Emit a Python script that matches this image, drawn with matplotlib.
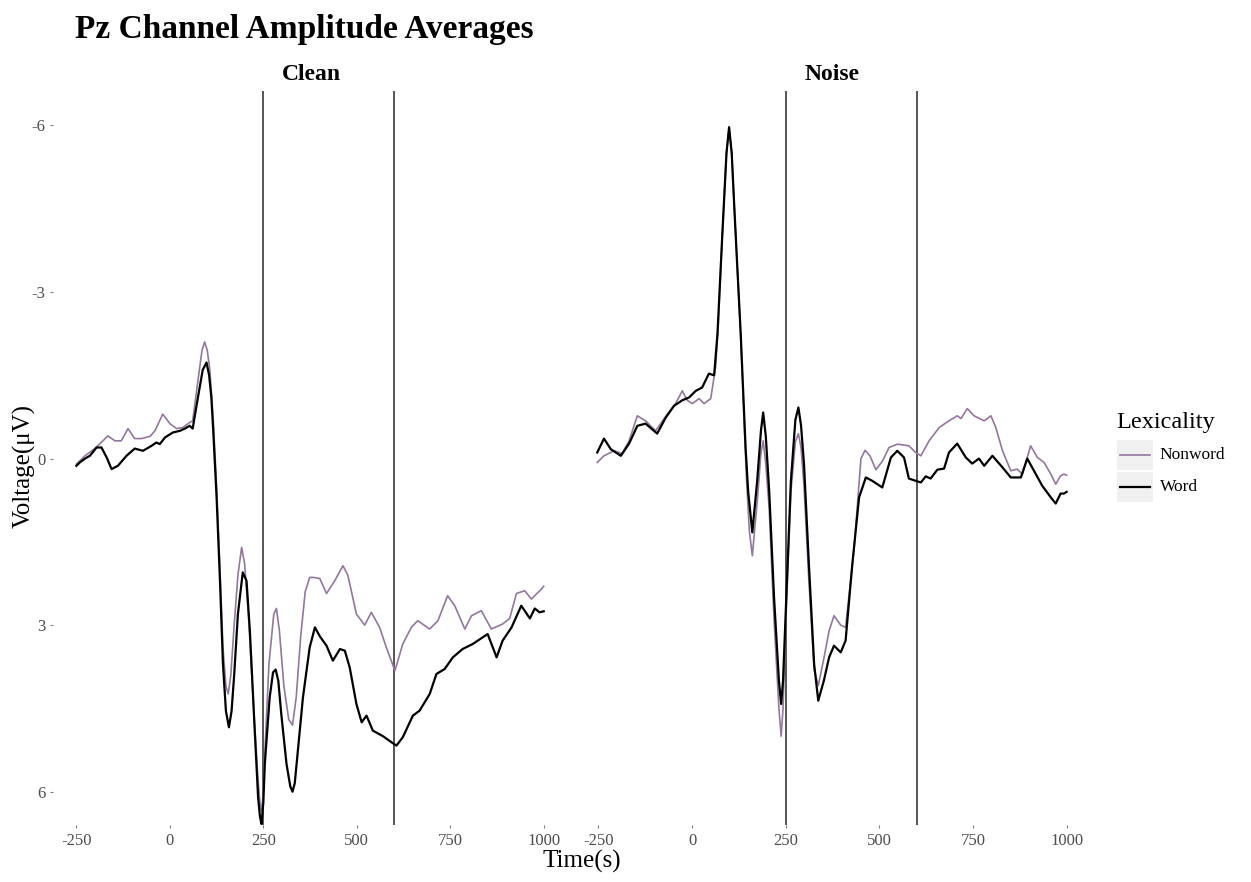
import matplotlib
matplotlib.use("Agg")
import matplotlib.pyplot as plt
from matplotlib.lines import Line2D
from matplotlib.patches import Rectangle

plt.rcParams["font.family"] = ["Liberation Serif", "DejaVu Serif"]
plt.rcParams["axes.unicode_minus"] = False

# Pz channel grand averages (time in ms, voltage in microvolts)
clean_word_t = [
    -250, -241, -227, -214, -196, -183, -169, -156, -139, -116, -94, -72, -49, -36,
    -27, -13, 8, 27, 40, 53, 61, 75, 88, 98, 105, 111, 116, 125, 134, 142, 150, 158,
    165, 172, 182, 195, 205, 214, 227, 236, 241, 245, 250, 254, 267, 276, 283, 290,
    298, 312, 322, 328, 334, 339, 356, 374, 388, 401, 419, 436, 455, 468, 481, 499,
    513, 526, 543, 570, 593, 606, 623, 650, 668, 695, 713, 735, 757, 783, 810, 850,
    874, 890, 914, 940, 963, 976, 989, 1000,
]
clean_word_v = [
    0.13, 0.07, 0.00, -0.05, -0.20, -0.20, -0.02, 0.19, 0.13, -0.05, -0.18, -0.14,
    -0.23, -0.29, -0.26, -0.38, -0.47, -0.50, -0.54, -0.59, -0.54, -1.10, -1.60,
    -1.73, -1.50, -1.10, -0.50, 0.70, 2.20, 3.70, 4.55, 4.84, 4.55, 3.90, 2.80, 2.05,
    2.20, 3.10, 4.90, 6.10, 6.45, 6.58, 6.20, 5.50, 4.30, 3.85, 3.80, 4.00, 4.60,
    5.50, 5.90, 6.00, 5.85, 5.50, 4.30, 3.40, 3.04, 3.20, 3.37, 3.64, 3.43, 3.46,
    3.76, 4.42, 4.75, 4.63, 4.90, 5.00, 5.11, 5.17, 5.02, 4.63, 4.54, 4.24, 3.88,
    3.79, 3.58, 3.43, 3.34, 3.16, 3.58, 3.28, 3.04, 2.65, 2.88, 2.70, 2.77, 2.75,
]

clean_nonword_t = [
    -250, -227, -201, -179, -166, -147, -130, -112, -94, -76, -53, -40, -19, 0, 18,
    35, 53, 61, 75, 86, 93, 100, 107, 116, 125, 134, 142, 150, 156, 163, 172, 182,
    192, 200, 210, 225, 236, 241, 245, 249, 254, 265, 278, 285, 293, 305, 318, 328,
    338, 350, 362, 374, 383, 401, 419, 441, 463, 476, 499, 521, 539, 561, 579, 602,
    623, 646, 663, 695, 717, 743, 762, 789, 807, 833, 860, 890, 909, 927, 949, 967,
    994, 1000,
]
clean_nonword_v = [
    0.10, -0.05, -0.18, -0.32, -0.41, -0.32, -0.32, -0.54, -0.36, -0.36, -0.40,
    -0.50, -0.80, -0.63, -0.54, -0.56, -0.65, -0.68, -1.40, -1.95, -2.10, -1.95,
    -1.59, -0.70, 0.50, 2.00, 3.40, 4.10, 4.24, 3.90, 3.00, 2.10, 1.60, 1.90, 2.80,
    4.60, 5.80, 6.20, 6.35, 6.10, 5.30, 3.70, 2.80, 2.70, 3.10, 4.10, 4.70, 4.80,
    4.30, 3.20, 2.40, 2.14, 2.14, 2.16, 2.43, 2.20, 1.93, 2.10, 2.80, 3.00, 2.77,
    3.04, 3.40, 3.82, 3.34, 3.04, 2.92, 3.07, 2.92, 2.47, 2.65, 3.07, 2.83, 2.74,
    3.07, 2.98, 2.88, 2.43, 2.38, 2.53, 2.35, 2.30,
]

noise_word_t = [
    -253, -235, -217, -190, -168, -146, -124, -93, -70, -48, -26, -8, 10, 27, 45, 59,
    68, 81, 92, 99, 106, 112, 122, 130, 143, 150, 161, 174, 184, 190, 197, 206, 219,
    232, 238, 243, 250, 264, 276, 284, 291, 299, 312, 326, 337, 352, 366, 379, 397,
    410, 428, 446, 464, 481, 508, 531, 548, 566, 579, 597, 611, 624, 637, 655, 673,
    686, 708, 731, 748, 766, 780, 802, 829, 851, 878, 895, 913, 935, 958, 971, 984,
    993, 1000,
]
noise_word_v = [
    -0.11, -0.36, -0.17, -0.05, -0.27, -0.59, -0.63, -0.45, -0.74, -0.95, -1.05,
    -1.10, -1.22, -1.28, -1.53, -1.50, -2.25, -4.05, -5.50, -5.97, -5.50, -4.65,
    -3.30, -2.25, -0.20, 0.60, 1.33, 0.40, -0.50, -0.83, -0.40, 0.58, 2.50, 4.00,
    4.42, 4.00, 2.80, 0.40, -0.70, -0.92, -0.60, 0.10, 1.90, 3.70, 4.36, 4.00, 3.58,
    3.37, 3.49, 3.28, 1.90, 0.70, 0.34, 0.40, 0.52, -0.02, -0.14, -0.02, 0.36, 0.40,
    0.43, 0.32, 0.36, 0.20, 0.18, -0.11, -0.27, -0.02, 0.09, 0.00, 0.13, -0.05, 0.16,
    0.34, 0.34, 0.00, 0.22, 0.49, 0.70, 0.81, 0.63, 0.63, 0.60,
]

noise_nonword_t = [
    -253, -235, -208, -187, -168, -146, -124, -97, -66, -44, -26, -13, 1, 19, 32, 50,
    63, 70, 81, 92, 99, 106, 112, 122, 130, 145, 153, 161, 175, 184, 190, 197, 206,
    219, 232, 238, 243, 250, 264, 276, 284, 291, 299, 312, 326, 337, 352, 366, 379,
    397, 410, 433, 451, 462, 475, 491, 509, 526, 549, 579, 597, 611, 633, 660, 686,
    708, 718, 735, 753, 780, 798, 811, 829, 851, 868, 882, 904, 922, 940, 958, 971,
    984, 993, 1000,
]
noise_nonword_v = [
    0.07, -0.05, -0.14, -0.09, -0.32, -0.77, -0.68, -0.50, -0.80, -0.99, -1.22,
    -1.05, -0.99, -1.08, -0.99, -1.08, -1.65, -2.40, -4.05, -5.50, -5.95, -5.50,
    -4.65, -3.30, -2.20, 0.30, 1.30, 1.75, 0.70, -0.10, -0.32, 0.10, 0.90, 2.90,
    4.50, 5.00, 4.50, 3.00, 0.60, -0.30, -0.45, -0.20, 0.50, 2.20, 3.80, 4.09, 3.60,
    3.10, 2.83, 3.00, 3.04, 1.60, 0.00, -0.15, -0.05, 0.20, 0.04, -0.20, -0.26,
    -0.23, -0.11, -0.05, -0.32, -0.56, -0.68, -0.77, -0.72, -0.90, -0.77, -0.68,
    -0.77, -0.56, -0.14, 0.22, 0.19, 0.28, -0.23, -0.02, 0.07, 0.28, 0.46, 0.31,
    0.28, 0.30,
]

conditions = ["Clean", "Noise"]
window_ms = [250, 600]
x_ticks = [-250, 0, 250, 500, 750, 1000]
y_ticks = [-6, -3, 0, 3, 6]

word_color = "#000000"
nonword_color = "#94769f"
text_grey = "#4d4d4d"

fig = plt.figure(figsize=(12.51, 8.82), dpi=100)
ax_clean = fig.add_axes([0.0424, 0.0646, 0.4109, 0.8322])
ax_noise = fig.add_axes([0.4596, 0.0646, 0.4117, 0.8322])

series = {
    "Clean": (clean_nonword_t, clean_nonword_v, clean_word_t, clean_word_v),
    "Noise": (noise_nonword_t, noise_nonword_v, noise_word_t, noise_word_v),
}
strip_x = {"Clean": 0.2486, "Noise": 0.6655}

for ax, cond in zip([ax_clean, ax_noise], conditions):
    nt, nv, wt, wv = series[cond]
    ax.plot(nt, nv, color=nonword_color, lw=1.2, zorder=3,
            solid_joinstyle="round")
    ax.plot(wt, wv, color=word_color, lw=1.6, zorder=4,
            solid_joinstyle="round")
    for xv in window_ms:
        ax.axvline(xv, color="#555555", lw=1.4, zorder=2)
    ax.set_xlim(-312.5, 1062.5)
    ax.set_ylim(6.6, -6.62)
    ax.set_xticks(x_ticks)
    ax.set_yticks(y_ticks)
    for sp in ax.spines.values():
        sp.set_visible(False)
    ax.tick_params(axis="both", length=2.5, width=0.8, color="#7f7f7f",
                   labelcolor=text_grey, labelsize=12, pad=3)
    fig.text(strip_x[cond], 0.915, cond, fontsize=17, fontweight="bold",
             ha="center", va="center")

ax_noise.tick_params(axis="y", left=False, labelleft=False)

fig.text(0.06, 0.966, "Pz Channel Amplitude Averages", fontsize=24,
         fontweight="bold", ha="left", va="center")
fig.text(0.465, 0.023, "Time(s)", fontsize=18, ha="center", va="center")
fig.text(0.0195, 0.4717, "Voltage(\u03bcV)", fontsize=18, ha="center",
         va="center", rotation=90)

# legend drawn with grey key boxes
fig.text(0.8925, 0.5215, "Lexicality", fontsize=17.5, ha="left", va="center")
labels = ["Nonword", "Word"]
colors = [nonword_color, word_color]
widths = [1.2, 1.6]
box_h = 30 / 882
for i, (lab, col, lw) in enumerate(zip(labels, colors, widths)):
    top = 1 - (440 + i * 32) / 882
    fig.patches.append(Rectangle((0.8929, top - box_h), 36 / 1251, box_h,
                                 transform=fig.transFigure,
                                 facecolor="#f0f0f0", edgecolor="none"))
    yc = top - box_h / 2
    fig.lines.append(Line2D([0.8955, 0.9195], [yc, yc],
                            transform=fig.transFigure, color=col, lw=lw))
    fig.text(0.9272, yc, lab, fontsize=12.5, ha="left", va="center")

fig.savefig("out.png", dpi=100)
